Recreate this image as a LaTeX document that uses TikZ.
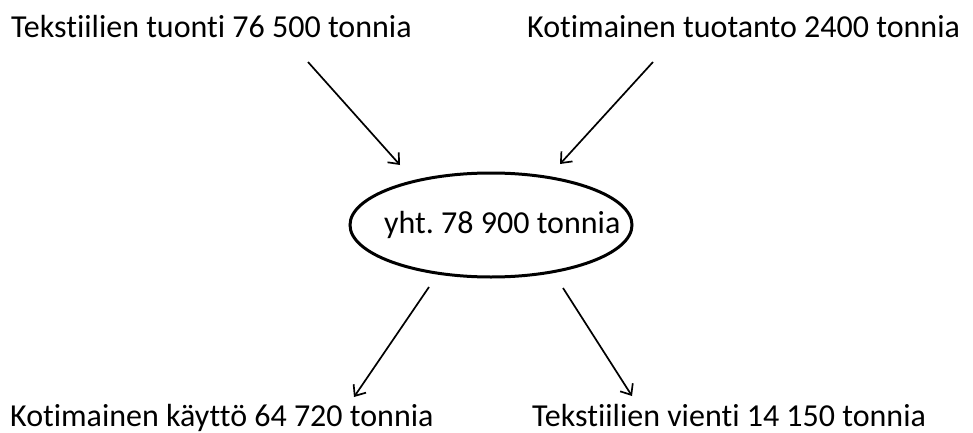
\documentclass[tikz,border=0pt]{standalone}
\usepackage{fontspec}
\setmainfont{Carlito}[Ligatures={NoCommon}]
\frenchspacing
\usetikzlibrary{arrows.meta,shapes.geometric}
\begin{document}
\begin{tikzpicture}[x=1pt,y=-1pt,
  lbl/.style={inner sep=0pt,anchor=base west,font=\fontsize{32}{38}\selectfont},
  arr/.style={line width=1.7pt,-{Straight Barb[length=9pt,width=15pt,line width=1.7pt]}},
  oval/.style={draw,line width=3pt,ellipse,minimum width=282pt,minimum height=104pt,inner sep=0pt}]
\useasboundingbox (0,0) rectangle (973,433);
\node[lbl] (t1) at (11,38) {Tekstiilien tuonti 76 500 tonnia};
\node[lbl] (t2) at (527,38) {Kotimainen tuotanto 2400 tonnia};
\node[lbl] (b1) at (10,426) {Kotimainen käyttö 64 720 tonnia};
\node[lbl] (b2) at (532,426) {Tekstiilien vienti 14 150 tonnia};
\node[oval] (e) at (491,225) {};
\node[lbl] (et) at (384,233) {yht. 78 900 tonnia};
\coordinate (a1s) at (308,62); \coordinate (a1e) at (400,165);
\coordinate (a2s) at (653,62); \coordinate (a2e) at (560,164);
\coordinate (a3s) at (429,287); \coordinate (a3e) at (354,397);
\coordinate (a4s) at (563,288); \coordinate (a4e) at (632,396);
\draw[arr] (a1s) -- (a1e);
\draw[arr] (a2s) -- (a2e);
\draw[arr] (a3s) -- (a3e);
\draw[arr] (a4s) -- (a4e);
\end{tikzpicture}
\end{document}
